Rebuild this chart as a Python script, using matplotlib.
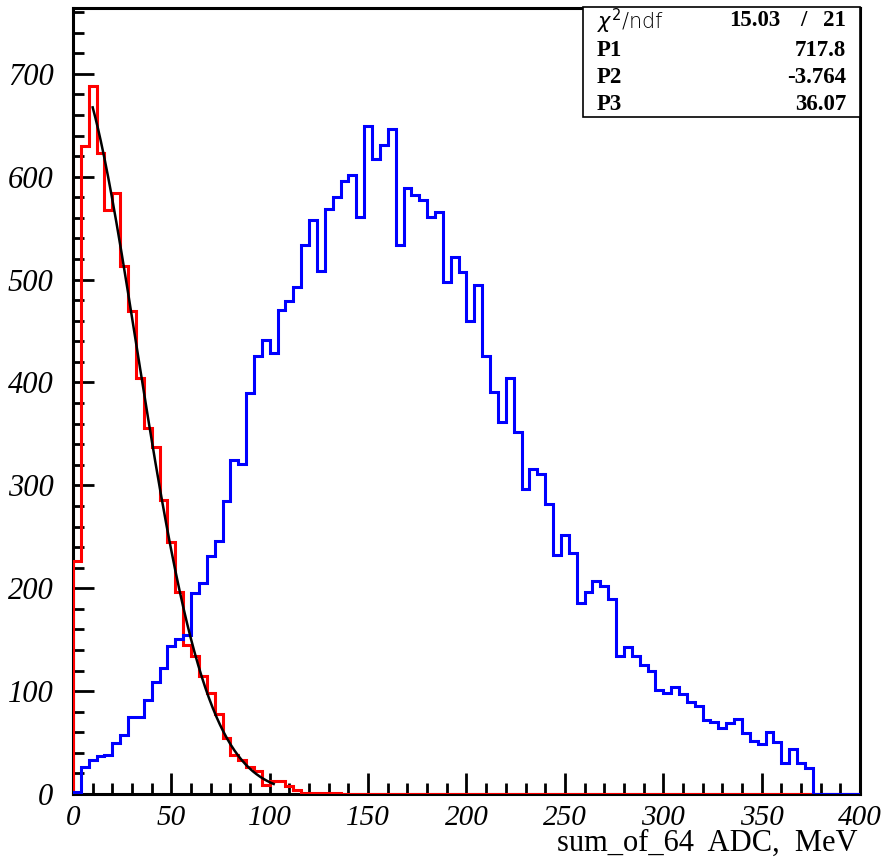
import numpy as np
import matplotlib
matplotlib.use("Agg")
import matplotlib.pyplot as plt
from matplotlib.ticker import MultipleLocator

# 100 bins, 0..400, width 4
bin_edges = np.arange(0, 404, 4)

red_counts = [226, 630, 688, 623, 568, 584, 513, 469, 404, 356,
              337, 286, 245, 196, 145, 134, 115, 98, 78, 54,
              38, 33, 26, 22, 9, 13, 13, 8, 4, 1,
              1, 1, 1, 1] + [0] * 66

blue_counts = [2, 26, 33, 37, 38, 50, 57, 75, 75, 91,
               109, 122, 144, 151, 155, 195, 205, 231, 246, 285,
               325, 321, 390, 426, 441, 429, 470, 479, 493, 534,
               558, 508, 569, 580, 596, 602, 561, 649, 617, 631,
               646, 534, 589, 582, 577, 561, 566, 498, 522, 507,
               460, 495, 426, 391, 362, 404, 352, 296, 316, 311,
               282, 232, 252, 234, 186, 196, 207, 202, 190, 134,
               143, 134, 125, 120, 101, 98, 104, 97, 89, 86,
               72, 70, 64, 69, 73, 59, 52, 49, 60, 51,
               30, 44, 30, 25, 0, 0, 0, 0, 0, 0]

# gaussian fit shown in the stats box
chi2, ndf = "15.03", "21"
p1, p2, p3 = 717.8, -3.764, 36.07
fit_range = (10, 102)

fig = plt.figure(figsize=(8.87, 8.6), dpi=100)
ax = fig.add_axes([73 / 887, 1 - 794 / 860, 787 / 887, 786 / 860])

ax.stairs(red_counts, bin_edges, color="#ff0000", linewidth=2.2, zorder=3)
ax.stairs(blue_counts, bin_edges, color="#0000ff", linewidth=2.2, zorder=3)

xf = np.linspace(fit_range[0], fit_range[1], 200)
ax.plot(xf, p1 * np.exp(-0.5 * ((xf - p2) / p3) ** 2), color="black", linewidth=1.8, zorder=4)

ax.set_xlim(0, 400)
ax.set_ylim(0, 764)

for s in ax.spines.values():
    s.set_linewidth(2.2)

ax.xaxis.set_major_locator(MultipleLocator(50))
ax.xaxis.set_minor_locator(MultipleLocator(10))
ax.yaxis.set_major_locator(MultipleLocator(100))
ax.yaxis.set_minor_locator(MultipleLocator(20))
ax.tick_params(which="both", direction="in", top=False, right=False, width=2)
ax.tick_params(which="major", length=15)
ax.tick_params(which="minor", length=8)
ax.tick_params(axis="y", pad=14)
ax.tick_params(axis="x", pad=8)
for lab in ax.get_xticklabels():
    lab.set_family("Liberation Serif")
    lab.set_style("italic")
    lab.set_fontsize(21)
for lab in ax.get_yticklabels():
    lab.set_family("Liberation Serif")
    lab.set_style("italic")
    lab.set_fontsize(22)

fig.text(858 / 887, 1 - 851 / 860, "sum_of_64  ADC,  MeV", ha="right", va="baseline",
         family="Liberation Serif", fontsize=22)

# stats box
box = plt.Rectangle((583 / 887, 1 - 117 / 860), (860 - 583) / 887, 110 / 860,
                    transform=fig.transFigure, facecolor="white", edgecolor="black",
                    linewidth=1.2, zorder=5)
fig.patches.append(box)

def fy(py):
    return 1 - py / 860

def fx(px):
    return px / 887

bold = dict(family="Liberation Serif", fontweight="bold", fontsize=16.5, va="center", zorder=6)
fig.text(fx(597), fy(21), r"$\chi^2$/ndf", family="DejaVu Sans", fontsize=15,
         va="center", zorder=6, fontweight="light")
fig.text(fx(780), fy(21), chi2, ha="right", **bold)
fig.text(fx(803), fy(21), "/", ha="center", **bold)
fig.text(fx(846), fy(21), ndf, ha="right", **bold)
rows = [("P1", f"{p1:.1f}"), ("P2", f"{p2:.3f}"), ("P3", f"{p3:.2f}")]
for i, (name, val) in enumerate(rows):
    y = fy(50 + 27.5 * i)
    fig.text(fx(597), y, name, ha="left", **bold)
    fig.text(fx(846), y, val, ha="right", **bold)

fig.savefig("out.png", dpi=100)
